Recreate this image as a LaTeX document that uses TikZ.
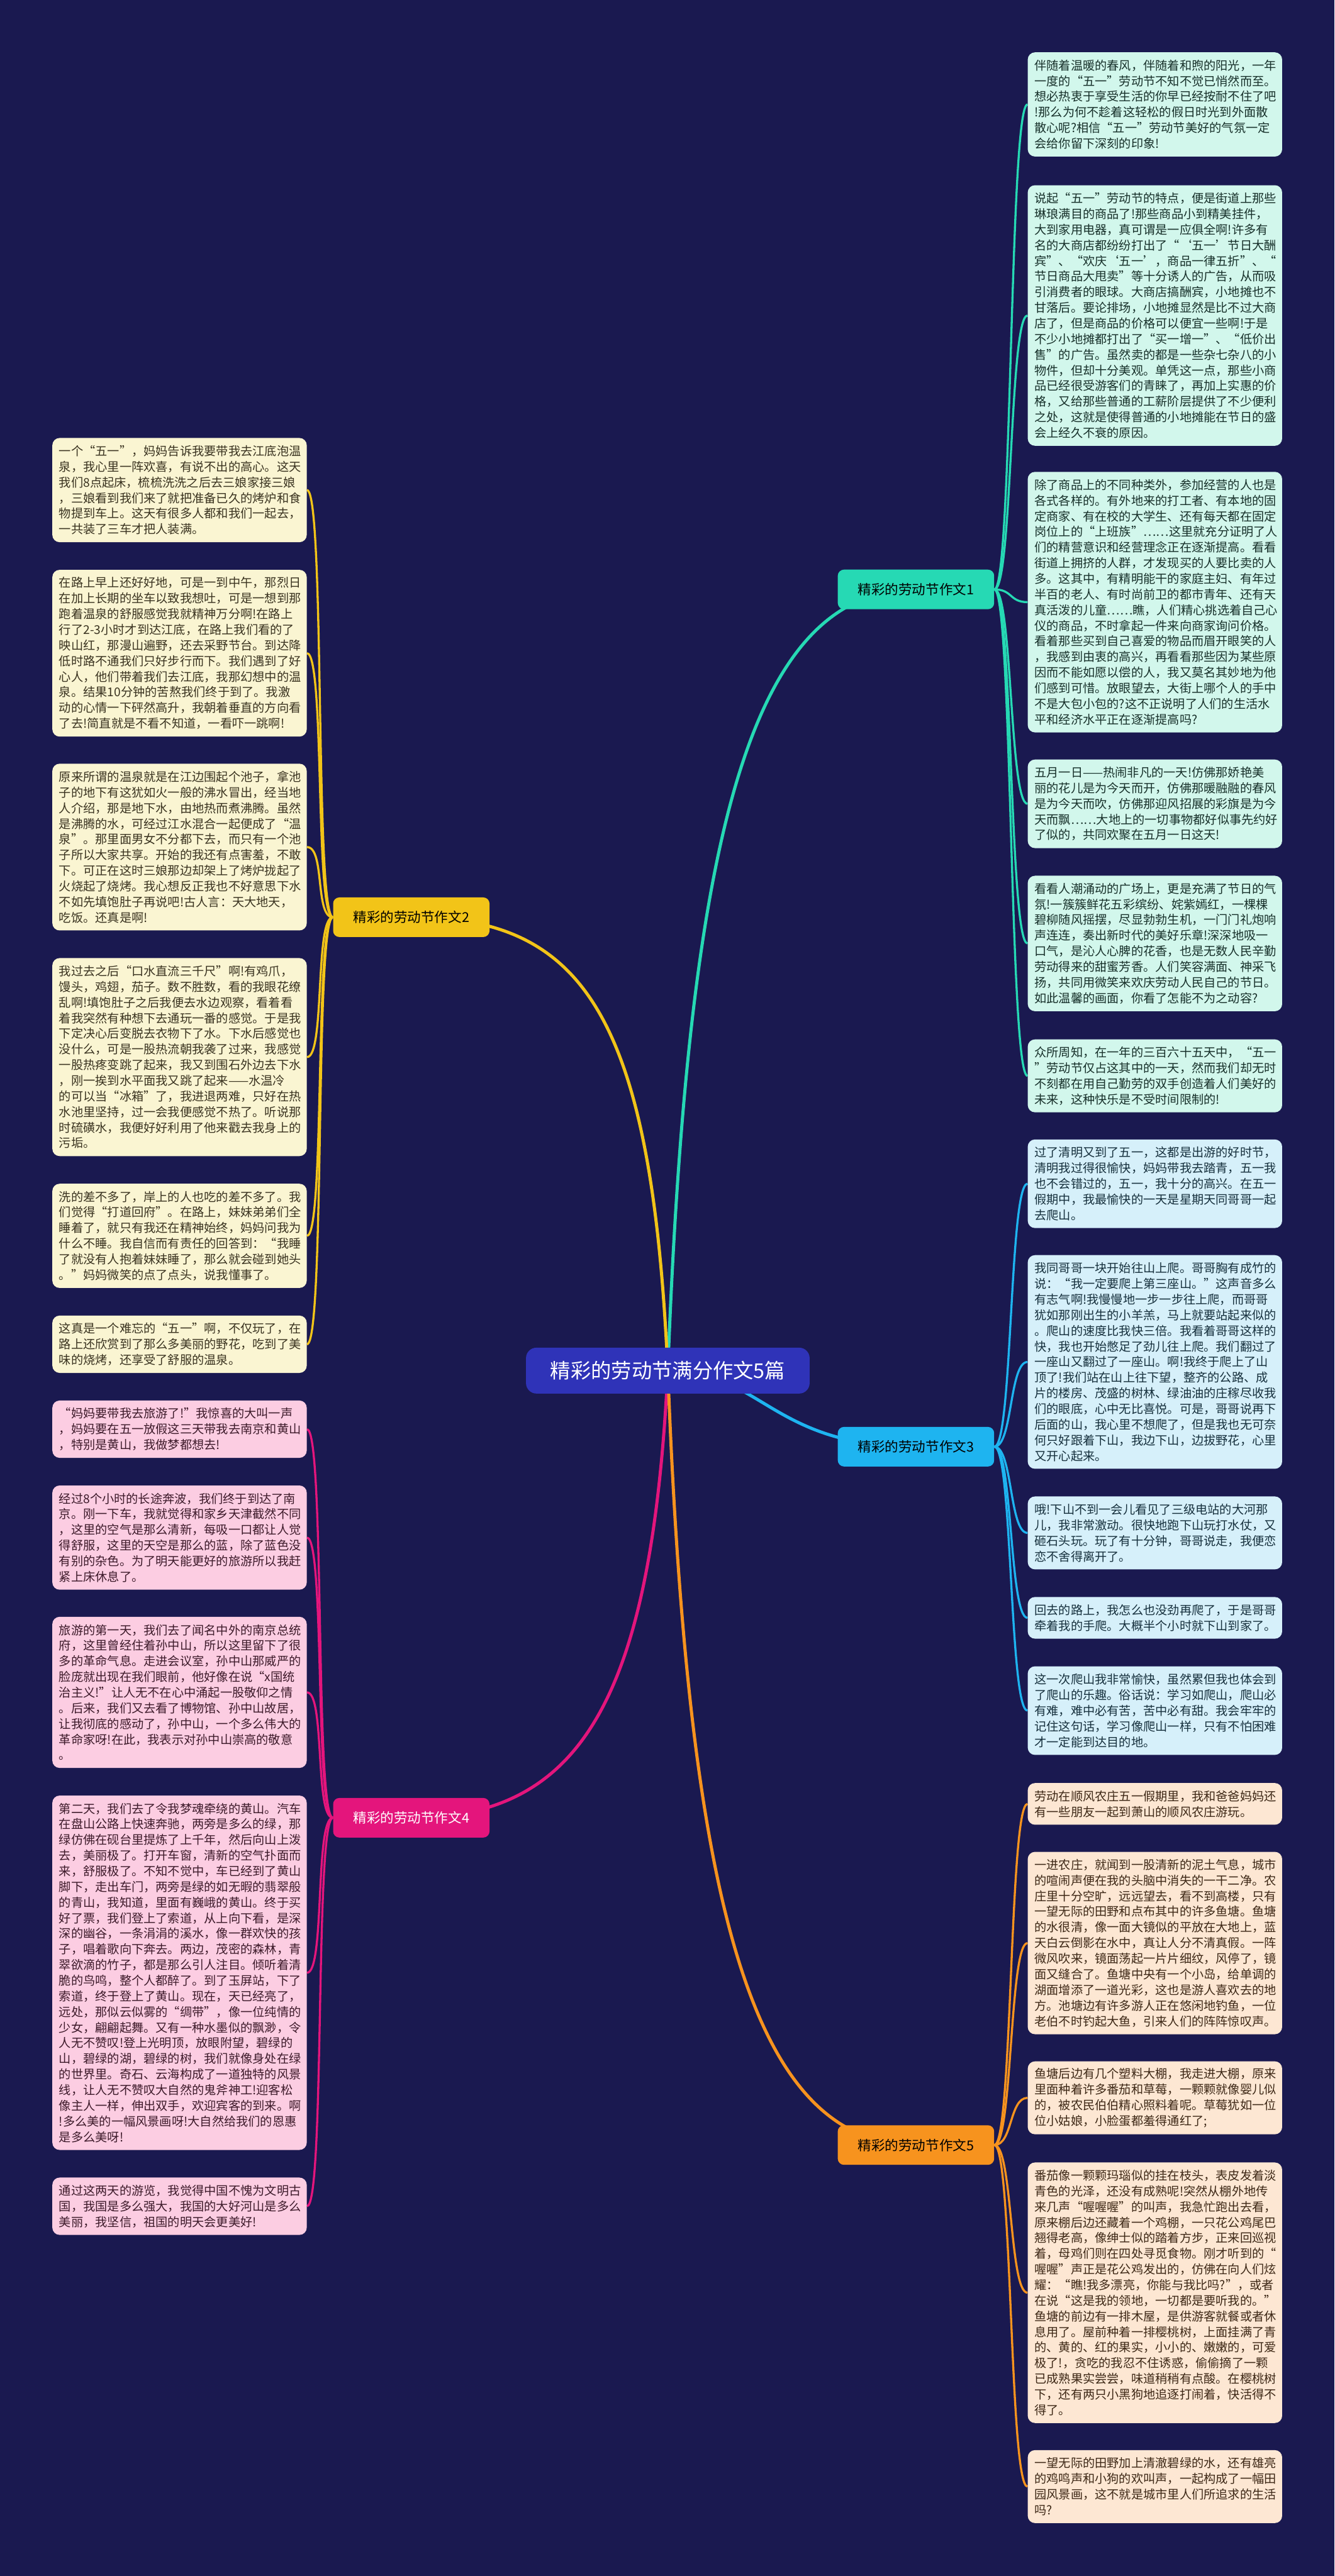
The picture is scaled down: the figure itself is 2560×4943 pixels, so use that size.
\documentclass[tikz,border=0pt]{standalone}
\usepackage{fontspec}
\newfontfamily\cjk{Noto Sans CJK SC}
\definecolor{bgc}{HTML}{1A1950}
\definecolor{cA}{HTML}{26D9B4}
\definecolor{cB}{HTML}{F2C418}
\definecolor{cC}{HTML}{1EB4F0}
\definecolor{cD}{HTML}{E4157C}
\definecolor{cE}{HTML}{F7931E}
\definecolor{fA}{HTML}{D2F7EC}
\definecolor{fB}{HTML}{FAF5D2}
\definecolor{fC}{HTML}{D6F0FA}
\definecolor{fD}{HTML}{FCCDE2}
\definecolor{fE}{HTML}{FDE7D3}
\definecolor{tA}{HTML}{17302A}
\definecolor{tB}{HTML}{3A3320}
\definecolor{tC}{HTML}{16303D}
\definecolor{tD}{HTML}{3D1A2A}
\definecolor{tE}{HTML}{3D2816}
\definecolor{ctrfill}{HTML}{2F33B8}
\pgfdeclarelayer{back}
\pgfdeclarelayer{lines}
\pgfsetlayers{back,lines,main}
\tikzset{
  leaf/.style={rounded corners=7pt, inner xsep=6.5pt, inner ysep=3pt, text width=231pt,
    align=left, anchor=north west, font=\cjk\fontsize{11.6pt}{15pt}\selectfont},
  nl/.style={minimum height={15pt*#1+10pt}},
  lA/.style={leaf, fill=fA, text=tA},
  lB/.style={leaf, fill=fB, text=tB},
  lC/.style={leaf, fill=fC, text=tC},
  lD/.style={leaf, fill=fD, text=tD},
  lE/.style={leaf, fill=fE, text=tE},
  branch/.style={rounded corners=6pt, minimum width=150pt, minimum height=38pt, inner sep=2pt,
    font=\cjk\fontsize{13pt}{15pt}\selectfont},
  ctr/.style={rounded corners=10pt, minimum width=272pt, minimum height=44pt, inner sep=2pt,
    fill=ctrfill, text=white, font=\cjk\fontsize{19.5pt}{22pt}\selectfont},
  lnk/.style={draw=#1, line width=2pt},
  mlnk/.style={draw=#1, line width=3pt},
}
\begin{document}
\begin{tikzpicture}[x=0.5pt,y=-0.5pt]
\begin{pgfonlayer}{back}
\fill[bgc] (0,0) rectangle (2560,4943);
\end{pgfonlayer}
\useasboundingbox (0,0) rectangle (2560,4943);

% central and branches
\node[ctr] (c) at (1281,2630) {精彩的劳动节满分作文5篇};
\node[branch, fill=cA, text=black] (b1) at (1757,1131) {精彩的劳动节作文1};
\node[branch, fill=cB, text=black] (b2) at (789,1760) {精彩的劳动节作文2};
\node[branch, fill=cC, text=black] (b3) at (1757,2776) {精彩的劳动节作文3};
\node[branch, fill=cD, text=white] (b4) at (789,3488) {精彩的劳动节作文4};
\node[branch, fill=cE, text=black] (b5) at (1757,4116) {精彩的劳动节作文5};

% branch 1 leaves
\node[lA, nl=6] (r1) at (1971,100) {伴随着温暖的春风，伴随着和煦的阳光，一年\\一度的“五一”劳动节不知不觉已悄然而至。\\想必热衷于享受生活的你早已经按耐不住了吧\\!那么为何不趁着这轻松的假日时光到外面散\\散心呢?相信“五一”劳动节美好的气氛一定\\会给你留下深刻的印象!};
\node[lA, nl=16] (r2) at (1971,355) {说起“五一”劳动节的特点，便是街道上那些\\琳琅满目的商品了!那些商品小到精美挂件，\\大到家用电器，真可谓是一应俱全啊!许多有\\名的大商店都纷纷打出了“‘五一’节日大酬\\宾”、“欢庆‘五一’，商品一律五折”、“\\节日商品大甩卖”等十分诱人的广告，从而吸\\引消费者的眼球。大商店搞酬宾，小地摊也不\\甘落后。要论排场，小地摊显然是比不过大商\\店了，但是商品的价格可以便宜一些啊!于是\\不少小地摊都打出了“买一增一”、“低价出\\售”的广告。虽然卖的都是一些杂七杂八的小\\物件，但却十分美观。单凭这一点，那些小商\\品已经很受游客们的青睐了，再加上实惠的价\\格，又给那些普通的工薪阶层提供了不少便利\\之处，这就是使得普通的小地摊能在节日的盛\\会上经久不衰的原因。};
\node[lA, nl=16] (r3) at (1971,905) {除了商品上的不同种类外，参加经营的人也是\\各式各样的。有外地来的打工者、有本地的固\\定商家、有在校的大学生、还有每天都在固定\\岗位上的“上班族”……这里就充分证明了人\\们的精营意识和经营理念正在逐渐提高。看看\\街道上拥挤的人群，才发现买的人要比卖的人\\多。这其中，有精明能干的家庭主妇、有年过\\半百的老人、有时尚前卫的都市青年、还有天\\真活泼的儿童……瞧，人们精心挑选着自己心\\仪的商品，不时拿起一件来向商家询问价格。\\看着那些买到自己喜爱的物品而眉开眼笑的人\\，我感到由衷的高兴，再看看那些因为某些原\\因而不能如愿以偿的人，我又莫名其妙地为他\\们感到可惜。放眼望去，大街上哪个人的手中\\不是大包小包的?这不正说明了人们的生活水\\平和经济水平正在逐渐提高吗?};
\node[lA, nl=5] (r4) at (1971,1457) {五月一日——热闹非凡的一天!仿佛那娇艳美\\丽的花儿是为今天而开，仿佛那暖融融的春风\\是为今天而吹，仿佛那迎风招展的彩旗是为今\\天而飘……大地上的一切事物都好似事先约好\\了似的，共同欢聚在五月一日这天!};
\node[lA, nl=8] (r5) at (1971,1680) {看看人潮涌动的广场上，更是充满了节日的气\\氛!一簇簇鲜花五彩缤纷、姹紫嫣红，一棵棵\\碧柳随风摇摆，尽显勃勃生机，一门门礼炮响\\声连连，奏出新时代的美好乐章!深深地吸一\\口气，是沁人心脾的花香，也是无数人民辛勤\\劳动得来的甜蜜芳香。人们笑容满面、神采飞\\扬，共同用微笑来欢庆劳动人民自己的节日。\\如此温馨的画面，你看了怎能不为之动容?};
\node[lA, nl=4] (r6) at (1971,1994) {众所周知，在一年的三百六十五天中，“五一\\”劳动节仅占这其中的一天，然而我们却无时\\不刻都在用自己勤劳的双手创造着人们美好的\\未来，这种快乐是不受时间限制的!};

% branch 3 leaves
\node[lC, nl=5] (r7) at (1971,2186) {过了清明又到了五一，这都是出游的好时节，\\清明我过得很愉快，妈妈带我去踏青，五一我\\也不会错过的，五一，我十分的高兴。在五一\\假期中，我最愉快的一天是星期天同哥哥一起\\去爬山。};
\node[lC, nl=13] (r8) at (1971,2408) {我同哥哥一块开始往山上爬。哥哥胸有成竹的\\说：“我一定要爬上第三座山。”这声音多么\\有志气啊!我慢慢地一步一步往上爬，而哥哥\\犹如那刚出生的小羊羔，马上就要站起来似的\\。爬山的速度比我快三倍。我看着哥哥这样的\\快，我也开始憋足了劲儿往上爬。我们翻过了\\一座山又翻过了一座山。啊!我终于爬上了山\\顶了!我们站在山上往下望，整齐的公路、成\\片的楼房、茂盛的树林、绿油油的庄稼尽收我\\们的眼底，心中无比喜悦。可是，哥哥说再下\\后面的山，我心里不想爬了，但是我也无可奈\\何只好跟着下山，我边下山，边拔野花，心里\\又开心起来。};
\node[lC, nl=4] (r9) at (1971,2871) {哦!下山不到一会儿看见了三级电站的大河那\\儿，我非常激动。很快地跑下山玩打水仗，又\\砸石头玩。玩了有十分钟，哥哥说走，我便恋\\恋不舍得离开了。};
\node[lC, nl=2] (r10) at (1971,3064) {回去的路上，我怎么也没劲再爬了，于是哥哥\\牵着我的手爬。大概半个小时就下山到家了。};
\node[lC, nl=5] (r11) at (1971,3197) {这一次爬山我非常愉快，虽然累但我也体会到\\了爬山的乐趣。俗话说：学习如爬山，爬山必\\有难，难中必有苦，苦中必有甜。我会牢牢的\\记住这句话，学习像爬山一样，只有不怕困难\\才一定能到达目的地。};

% branch 5 leaves
\node[lE, nl=2] (r12) at (1971,3421) {劳动在顺风农庄五一假期里，我和爸爸妈妈还\\有一些朋友一起到萧山的顺风农庄游玩。};
\node[lE, nl=11] (r13) at (1971,3553) {一进农庄，就闻到一股清新的泥土气息，城市\\的喧闹声便在我的头脑中消失的一干二净。农\\庄里十分空旷，远远望去，看不到高楼，只有\\一望无际的田野和点布其中的许多鱼塘。鱼塘\\的水很清，像一面大镜似的平放在大地上，蓝\\天白云倒影在水中，真让人分不清真假。一阵\\微风吹来，镜面荡起一片片细纹，风停了，镜\\面又缝合了。鱼塘中央有一个小岛，给单调的\\湖面增添了一道光彩，这也是游人喜欢去的地\\方。池塘边有许多游人正在悠闲地钓鱼，一位\\老伯不时钓起大鱼，引来人们的阵阵惊叹声。};
\node[lE, nl=4] (r14) at (1971,3955) {鱼塘后边有几个塑料大棚，我走进大棚，原来\\里面种着许多番茄和草莓，一颗颗就像婴儿似\\的，被农民伯伯精心照料着呢。草莓犹如一位\\位小姑娘，小脸蛋都羞得通红了;};
\node[lE, nl=16] (r15) at (1971,4149) {番茄像一颗颗玛瑙似的挂在枝头，表皮发着淡\\青色的光泽，还没有成熟呢!突然从棚外地传\\来几声“喔喔喔”的叫声，我急忙跑出去看，\\原来棚后边还藏着一个鸡棚，一只花公鸡尾巴\\翘得老高，像绅士似的踏着方步，正来回巡视\\着，母鸡们则在四处寻觅食物。刚才听到的“\\喔喔”声正是花公鸡发出的，仿佛在向人们炫\\耀：“瞧!我多漂亮，你能与我比吗?”，或者\\在说“这是我的领地，一切都是要听我的。”\\鱼塘的前边有一排木屋，是供游客就餐或者休\\息用了。屋前种着一排樱桃树，上面挂满了青\\的、黄的、红的果实，小小的、嫩嫩的，可爱\\极了!，贪吃的我忍不住诱惑，偷偷摘了一颗\\已成熟果实尝尝，味道稍稍有点酸。在樱桃树\\下，还有两只小黑狗地追逐打闹着，快活得不\\得了。};
\node[lE, nl=4] (r16) at (1971,4701) {一望无际的田野加上清澈碧绿的水，还有雄亮\\的鸡鸣声和小狗的欢叫声，一起构成了一幅田\\园风景画，这不就是城市里人们所追求的生活\\吗?};

% branch 2 leaves
\node[lB, nl=6] (l1) at (100,840) {一个“五一”，妈妈告诉我要带我去江底泡温\\泉，我心里一阵欢喜，有说不出的高心。这天\\我们8点起床，梳梳洗洗之后去三娘家接三娘\\，三娘看到我们来了就把准备已久的烤炉和食\\物提到车上。这天有很多人都和我们一起去，\\一共装了三车才把人装满。};
\node[lB, nl=10] (l2) at (100,1093) {在路上早上还好好地，可是一到中午，那烈日\\在加上长期的坐车以致我想吐，可是一想到那\\跑着温泉的舒服感觉我就精神万分啊!在路上\\行了2-3小时才到达江底，在路上我们看的了\\映山红，那漫山遍野，还去采野节台。到达降\\低时路不通我们只好步行而下。我们遇到了好\\心人，他们带着我们去江底，我那幻想中的温\\泉。结果10分钟的苦熬我们终于到了。我激\\动的心情一下砰然高升，我朝着垂直的方向看\\了去!简直就是不看不知道，一看吓一跳啊!};
\node[lB, nl=10] (l3) at (100,1465) {原来所谓的温泉就是在江边围起个池子，拿池\\子的地下有这犹如火一般的沸水冒出，经当地\\人介绍，那是地下水，由地热而煮沸腾。虽然\\是沸腾的水，可经过江水混合一起便成了“温\\泉”。那里面男女不分都下去，而只有一个池\\子所以大家共享。开始的我还有点害羞，不敢\\下。可正在这时三娘那边却架上了烤炉拢起了\\火烧起了烧烤。我心想反正我也不好意思下水\\不如先填饱肚子再说吧!古人言：天大地天，\\吃饭。还真是啊!};
\node[lB, nl=12] (l4) at (100,1838) {我过去之后“口水直流三千尺”啊!有鸡爪，\\馒头，鸡翅，茄子。数不胜数，看的我眼花缭\\乱啊!填饱肚子之后我便去水边观察，看着看\\着我突然有种想下去通玩一番的感觉。于是我\\下定决心后变脱去衣物下了水。下水后感觉也\\没什么，可是一股热流朝我袭了过来，我感觉\\一股热疼变跳了起来，我又到围石外边去下水\\，刚一挨到水平面我又跳了起来——水温冷\\的可以当“冰箱”了，我进退两难，只好在热\\水池里坚持，过一会我便感觉不热了。听说那\\时硫磺水，我便好好利用了他来戳去我身上的\\污垢。};
\node[lB, nl=6] (l5) at (100,2271) {洗的差不多了，岸上的人也吃的差不多了。我\\们觉得“打道回府”。在路上，妹妹弟弟们全\\睡着了，就只有我还在精神始终，妈妈问我为\\什么不睡。我自信而有责任的回答到：“我睡\\了就没有人抱着妹妹睡了，那么就会碰到她头\\。”妈妈微笑的点了点头，说我懂事了。};
\node[lB, nl=3] (l6) at (100,2524) {这真是一个难忘的“五一”啊，不仅玩了，在\\路上还欣赏到了那么多美丽的野花，吃到了美\\味的烧烤，还享受了舒服的温泉。};

% branch 4 leaves
\node[lD, nl=3] (l7) at (100,2687) {“妈妈要带我去旅游了!”我惊喜的大叫一声\\，妈妈要在五一放假这三天带我去南京和黄山\\，特别是黄山，我做梦都想去!};
\node[lD, nl=6] (l8) at (100,2850) {经过8个小时的长途奔波，我们终于到达了南\\京。刚一下车，我就觉得和家乡天津截然不同\\，这里的空气是那么清新，每吸一口都让人觉\\得舒服，这里的天空是那么的蓝，除了蓝色没\\有别的杂色。为了明天能更好的旅游所以我赶\\紧上床休息了。};
\node[lD, nl=9] (l9) at (100,3102) {旅游的第一天，我们去了闻名中外的南京总统\\府，这里曾经住着孙中山，所以这里留下了很\\多的革命气息。走进会议室，孙中山那威严的\\脸庞就出现在我们眼前，他好像在说“x国统\\治主义!”让人无不在心中涌起一股敬仰之情\\。后来，我们又去看了博物馆、孙中山故居，\\让我彻底的感动了，孙中山，一个多么伟大的\\革命家呀!在此，我表示对孙中山崇高的敬意\\。};
\node[lD, nl=22] (l10) at (100,3445) {第二天，我们去了令我梦魂牵绕的黄山。汽车\\在盘山公路上快速奔驰，两旁是多么的绿，那\\绿仿佛在砚台里提炼了上千年，然后向山上泼\\去，美丽极了。打开车窗，清新的空气扑面而\\来，舒服极了。不知不觉中，车已经到了黄山\\脚下，走出车门，两旁是绿的如无暇的翡翠般\\的青山，我知道，里面有巍峨的黄山。终于买\\好了票，我们登上了索道，从上向下看，是深\\深的幽谷，一条涓涓的溪水，像一群欢快的孩\\子，唱着歌向下奔去。两边，茂密的森林，青\\翠欲滴的竹子，都是那么引人注目。倾听着清\\脆的鸟鸣，整个人都醉了。到了玉屏站，下了\\索道，终于登上了黄山。现在，天已经亮了，\\远处，那似云似雾的“绸带”，像一位纯情的\\少女，翩翩起舞。又有一种水墨似的飘渺，令\\人无不赞叹!登上光明顶，放眼附望，碧绿的\\山，碧绿的湖，碧绿的树，我们就像身处在绿\\的世界里。奇石、云海构成了一道独特的风景\\线，让人无不赞叹大自然的鬼斧神工!迎客松\\像主人一样，伸出双手，欢迎宾客的到来。啊\\!多么美的一幅风景画呀!大自然给我们的恩惠\\是多么美呀!};
\node[lD, nl=3] (l11) at (100,4178) {通过这两天的游览，我觉得中国不愧为文明古\\国，我国是多么强大，我国的大好河山是多么\\美丽，我坚信，祖国的明天会更美好!};

\begin{pgfonlayer}{lines}
% central to branches
\draw[mlnk=cA] (c.center) .. controls (1320,1600) and (1440,1131) .. (b1.center);
\draw[mlnk=cB] (c.center) .. controls (1250,1950) and (1120,1760) .. (b2.center);
\draw[mlnk=cC] (c.center) .. controls (1460,2630) and (1480,2776) .. (b3.center);
\draw[mlnk=cD] (c.center) .. controls (1250,3250) and (1120,3488) .. (b4.center);
\draw[mlnk=cE] (c.center) .. controls (1320,3650) and (1440,4116) .. (b5.center);
% branch 1
\foreach \n in {r1,r2,r3,r4,r5,r6}
  \draw[lnk=cA] (b1.east) .. controls +(35,0) and +(-35,0) .. (\n.west);
\foreach \n in {r7,r8,r9,r10,r11}
  \draw[lnk=cC] (b3.east) .. controls +(35,0) and +(-35,0) .. (\n.west);
\foreach \n in {r12,r13,r14,r15,r16}
  \draw[lnk=cE] (b5.east) .. controls +(35,0) and +(-35,0) .. (\n.west);
\foreach \n in {l1,l2,l3,l4,l5,l6}
  \draw[lnk=cB] (b2.west) .. controls +(-35,0) and +(35,0) .. (\n.east);
\foreach \n in {l7,l8,l9,l10,l11}
  \draw[lnk=cD] (b4.west) .. controls +(-35,0) and +(35,0) .. (\n.east);
\end{pgfonlayer}
\end{tikzpicture}
\end{document}
